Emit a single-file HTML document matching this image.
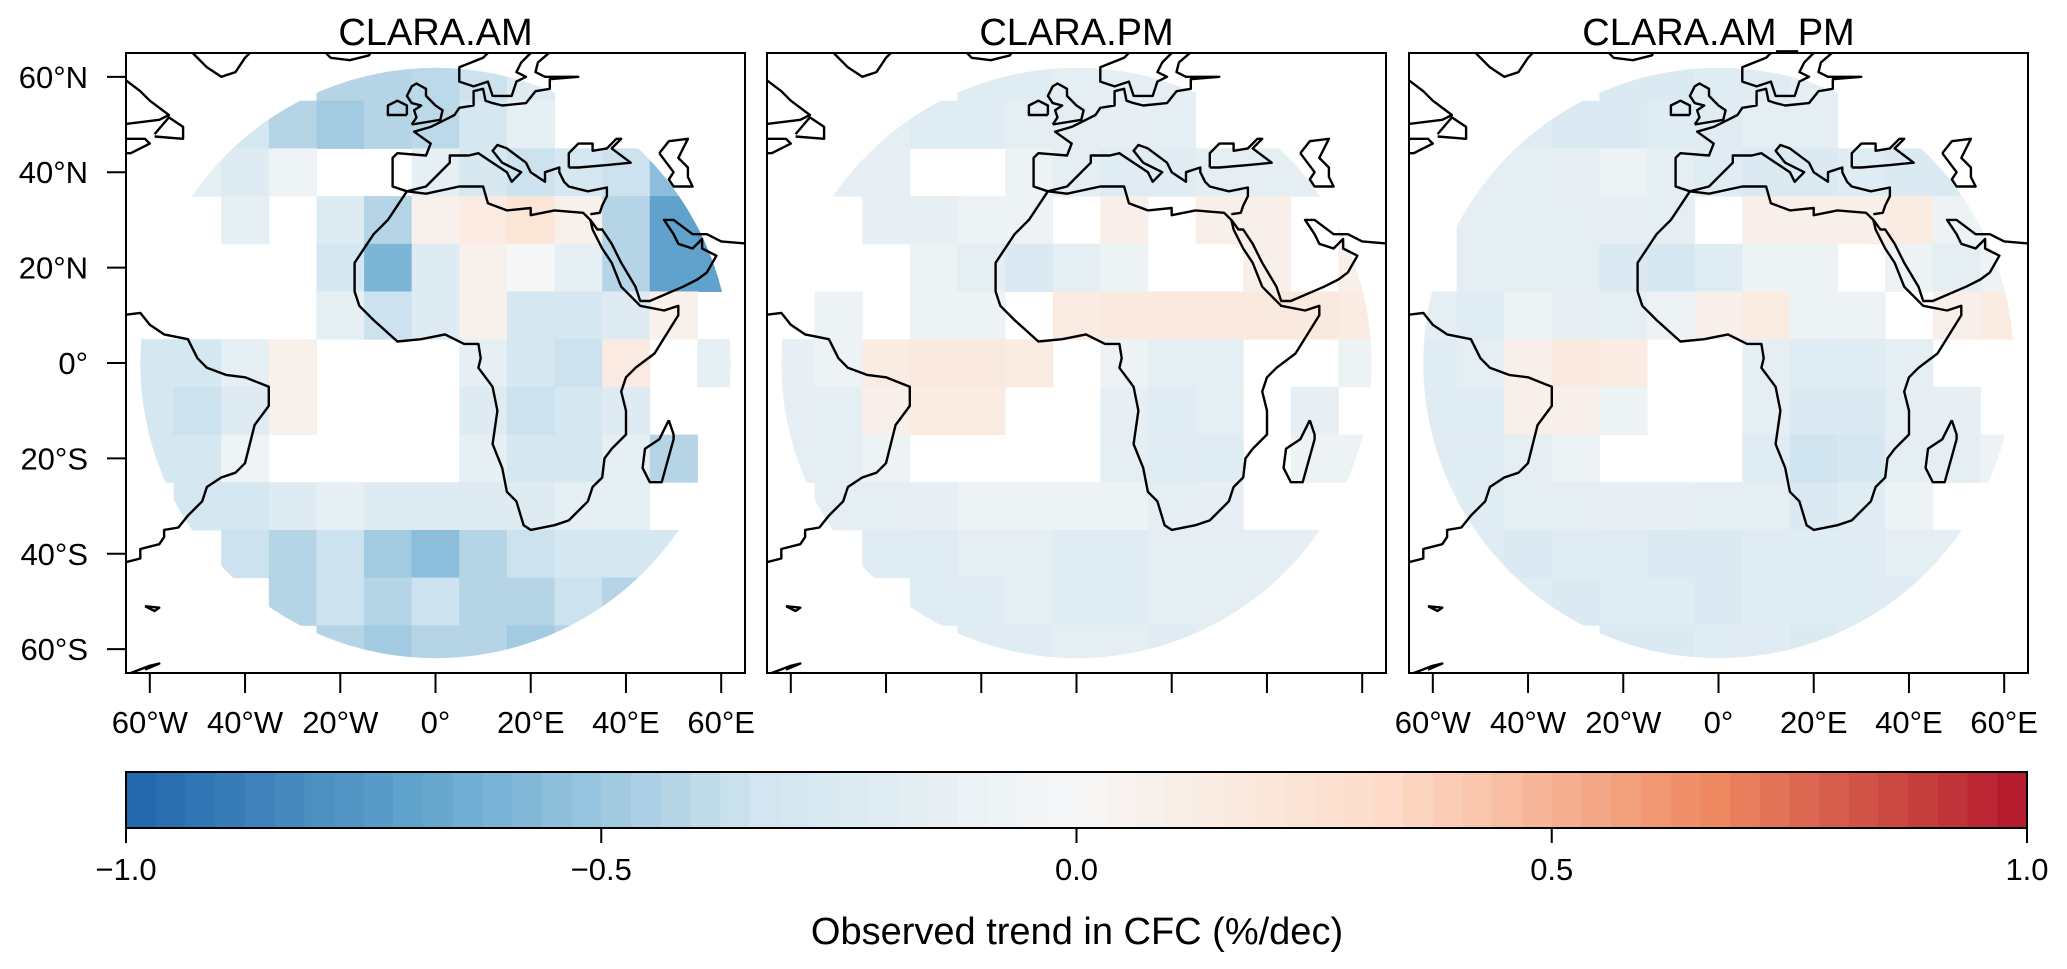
<!DOCTYPE html>
<html><head><meta charset="utf-8"><style>
html,body{margin:0;padding:0;background:#fff;}
svg{display:block;font-family:"Liberation Sans",sans-serif;}
</style></head><body>
<svg id="fig" width="2067" height="969" viewBox="0 0 2067 969" xmlns="http://www.w3.org/2000/svg">
<defs id="defs"></defs>
<g id="root"></g>
</svg>
<script>
// ---- data ----
const lonCenters = [-60,-50,-40,-30,-20,-10,0,10,20,30,40,50,60];
const latCenters = [60,50,40,30,20,10,0,-10,-20,-30,-40,-50,-60];
const n = null;
const amValues = [
[n,n,n,n,-.42,-.42,-.4,-.35,-.22,n,n,n,n],
[n,n,-.3,-.42,-.48,-.42,-.4,-.3,-.15,n,n,-.22,n],
[n,-.15,-.22,-.08,n,n,-.15,-.28,-.35,-.3,-.35,-.55,-.6],
[n,n,-.15,n,-.22,-.42,.08,.15,.22,.08,-.42,-.7,-.75],
[n,n,n,n,-.3,-.6,-.22,.08,0,-.15,-.42,-.7,-.7],
[n,n,n,n,-.15,-.35,-.22,.08,-.3,-.3,-.22,.08,n],
[-.3,-.3,-.15,.08,n,n,n,-.15,-.3,-.35,.15,n,-.15],
[-.3,-.35,-.22,.08,n,n,n,-.22,-.35,-.3,-.22,n,n],
[-.3,-.3,-.08,n,n,n,n,-.15,-.3,-.3,-.15,-.42,n],
[n,-.3,-.3,-.22,-.15,-.22,-.22,-.22,-.22,-.15,-.15,n,n],
[n,n,-.35,-.42,-.35,-.48,-.55,-.42,-.35,-.3,-.3,-.3,-.22],
[n,n,n,-.42,-.35,-.42,-.35,-.42,-.42,-.35,-.42,-.42,n],
[n,n,n,n,-.42,-.48,-.42,-.42,-.48,-.42,n,n,n]];
const pmValues = [
[n,n,n,n,-.2,-.2,-.17,-.17,-.17,n,n,n,n],
[n,n,-.17,-.2,-.2,-.17,-.17,-.14,-.17,n,n,-.17,n],
[n,-.14,-.14,n,n,-.09,-.17,-.2,-.2,-.17,-.17,-.17,-.17],
[n,n,-.14,-.14,-.09,-.09,n,.09,n,.09,.09,n,-.09],
[n,n,n,-.09,-.17,-.25,-.17,-.09,n,n,.09,n,.09],
[n,-.09,n,-.09,-.09,n,.14,.17,.17,.17,.17,.17,.14],
[-.14,-.09,.14,.17,.17,.14,n,-.09,-.17,-.17,n,n,-.09],
[-.14,-.17,.09,.14,.14,n,n,-.14,-.2,-.17,n,-.14,n],
[-.17,-.17,-.09,n,n,n,n,-.17,-.2,-.2,n,-.09,-.09],
[n,-.17,-.17,-.14,-.09,-.09,-.09,-.09,-.17,-.14,n,n,n],
[n,n,-.2,-.2,-.17,-.17,-.2,-.2,-.17,-.17,-.17,-.14,n],
[n,n,n,-.2,-.2,-.17,-.2,-.2,-.17,-.17,-.17,-.17,n],
[n,n,n,n,-.2,-.2,-.17,-.17,-.2,-.17,n,n,n]];
const ampmValues = [
[n,n,n,n,-.25,-.25,-.2,-.2,-.17,n,n,n,n],
[n,n,-.2,-.25,-.25,-.2,-.2,-.17,-.17,n,n,-.17,n],
[n,-.17,-.17,-.14,-.09,-.17,-.2,-.25,-.25,-.2,-.25,-.25,-.25],
[n,-.17,-.17,-.17,-.14,-.17,n,.09,.09,.09,.14,-.09,-.17],
[n,-.17,-.17,-.17,-.25,-.3,-.2,-.09,-.09,n,-.09,-.17,-.09],
[-.17,-.2,-.09,-.14,-.17,-.09,.09,.14,-.09,-.09,n,.09,.14],
[-.2,-.17,.09,.17,.14,n,n,-.17,-.2,-.2,-.17,n,n],
[-.2,-.2,.09,.09,-.09,n,n,-.17,-.25,-.25,-.17,-.14,n],
[-.2,-.2,-.17,-.09,n,n,n,-.2,-.33,-.3,-.17,-.17,-.09],
[-.17,-.2,-.17,-.17,-.14,-.14,-.17,-.17,-.25,-.2,-.09,n,n],
[n,-.2,-.25,-.2,-.2,-.25,-.25,-.2,-.2,-.2,-.17,-.17,-.17],
[n,n,-.2,-.25,-.2,-.2,-.25,-.2,-.2,-.2,-.2,-.17,n],
[n,n,n,n,-.25,-.25,-.2,-.2,-.25,-.2,n,n,n]];
const panelTitles = ["CLARA.AM","CLARA.PM","CLARA.AM_PM"];
const latTicks = [60,40,20,0,-20,-40,-60];
const latTickLabels = ["60°N","40°N","20°N","0°","20°S","40°S","60°S"];
const lonTicks = [-60,-40,-20,0,20,40,60];
const lonTickLabels = ["60°W","40°W","20°W","0°","20°E","40°E","60°E"];
const cbTicks = [-1,-0.5,0,0.5,1];
const cbTickLabels = ["−1.0","−0.5","0.0","0.5","1.0"];

const coasts = [
 [[-6,36],[-10,30],[-13,27],[-17,21],[-17,15],[-16,12],[-13,9],[-8,4.5],[-3,5],[2,6],[6,4],[9,4],[9.5,1],[9,-1],[12,-5],[13,-10],[12,-17],[14,-22],[15,-27],[17,-29],[18.5,-34],[20,-35],[25,-34],[28,-33],[32,-29],[33,-26],[35,-24],[35.5,-20],[37,-18],[40,-15],[40,-10],[39,-6],[40,-3],[42,-1],[46,2],[51,10],[51,12],[48,11],[43,12],[39,16],[37,21],[35,24],[33,28],[32.5,30],[31,31.5],[25,32],[20,31],[20,32.5],[15,32],[11,33.5],[10,37],[5,37],[-2,35.5],[-6,36]],
 [[32.5,30],[34,28],[35,28],[37,25],[39,21],[42,16],[43,13],[45,13],[52,16],[55,17.5],[57,19],[59,22.5],[56,24],[56,26],[54,24],[51,25],[50,27],[48,30],[50,30],[54,27],[57,27],[60,25.5],[66,25]],
 [[32.5,31.2],[34.5,31.5],[35,33],[36,35],[36,36.8],[32,36],[30,36.5],[28,37],[27,38],[26,40],[26,41],[23,40],[23,38],[20,40],[19,42],[15,45],[13,45.7],[12,44.5],[14,42],[18,40],[16,38],[15,40],[12,42],[9,44],[7,43.5],[3,43.5],[3,42],[0,39],[-2,37],[-6,36],[-9,37],[-9,43],[-8,44],[-2,43.5],[-1,46],[-4.5,48.5],[-1,49.5],[2,51],[4,52],[5,53.5],[8,54],[8,57],[10,57.5],[10.5,55],[12,54.5],[14,54],[19,54.5],[21,57],[24,57.5],[24,59.5],[30,60],[23,60],[21,61],[21.5,63],[25,66]],
 [[12,66],[10,64],[5,62],[5,59],[8,58],[11,59],[12,56],[16,56],[17,59],[19,60],[17,61],[18,63],[21,66]],
 [[-5,50],[1,51],[1.5,53],[0,54],[-2,56],[-2,57.5],[-4,58.6],[-5,58],[-6,56],[-5,54.5],[-3,54],[-4.5,53],[-4,51.5],[-5,50]],
 [[-6,52],[-6,54],[-8,55],[-10,54],[-10,52],[-6,52]],
 [[28,41],[28,44],[30,46],[33,46],[33,44.5],[36,45],[38,47],[39,47],[37,45],[41,42],[36,41.5],[30,41],[28,41]],
 [[47,44],[49,46.5],[53,47],[52,45],[51,43],[53,41],[53,39],[54,37],[50,37],[49,38.5],[50,40],[47,44]],
 [[49,-12],[50,-15],[50,-16],[47.5,-25],[45,-25],[43.5,-22],[44,-18],[47,-16],[49,-12]],
 [[-66,10],[-62,10.5],[-60,8],[-57,6],[-52,5],[-50,1],[-48,-1],[-44,-2.5],[-40,-3],[-35,-5],[-35,-9],[-38,-13],[-39,-17],[-40,-21],[-42,-23],[-45,-24],[-48,-26],[-49,-29],[-52,-32],[-54,-34.5],[-57,-35],[-57,-36.5],[-58,-38],[-62,-39],[-62,-41],[-66,-42]],
 [[-61,-51],[-58,-51.3],[-59,-52],[-61,-51]],
 [[-59,47.5],[-53,47],[-53,49.5],[-56,51.5],[-59,48]],
 [[-66,60],[-62,57],[-60,55],[-56,52],[-58,51],[-66,50]],
 [[-66,47],[-61,47],[-60,46],[-64,44],[-66,44]],
 [[-52,66],[-48,62],[-45,60],[-42,61],[-40,64],[-38,66]],
 [[-24,66],[-22,64],[-18,63.5],[-14,64.5],[-13,66]],
 [[-64,-65],[-60,-63.5],[-58,-63],[-61,-64.3]]
];

// ---- layout ----
const NS = "http://www.w3.org/2000/svg";
const root = document.getElementById('root');
const defs = document.getElementById('defs');
const panelLefts = [126,767,1409];
const PW = 619, PT = 53, PH = 620, SPAN = 130;
function mk(tag, attrs, parent){const e=document.createElementNS(NS,tag);for(const k in attrs)e.setAttribute(k,attrs[k]);(parent||root).appendChild(e);return e;}

const stops=[[-1,[33,102,172]],[-0.667,[103,169,207]],[-0.333,[209,229,240]],[0,[247,247,247]],[0.333,[253,219,199]],[0.667,[239,138,98]],[1,[178,24,43]]];
function cmap(v){v=Math.max(-1,Math.min(1,v));for(let i=0;i<stops.length-1;i++){const a=stops[i],b=stops[i+1];if(v<=b[0]){const t=(v-a[0])/(b[0]-a[0]);const c=a[1].map((x,j)=>Math.round(x+(b[1][j]-x)*t));return `rgb(${c[0]},${c[1]},${c[2]})`;}}return 'rgb(178,24,43)';}

const allValues=[amValues,pmValues,ampmValues];
allValues.forEach((vals,p)=>{
  const L=panelLefts[p];
  const xs=lon=>L+(lon+65)*PW/SPAN;
  const ys=lat=>PT+(65-lat)*PH/SPAN;
  const g=mk('g',{});
  
  
  const cp=mk('clipPath',{id:'disk'+p},defs);
  mk('circle',{cx:xs(0),cy:ys(0),r:62*PW/SPAN},cp);
  const cr=mk('clipPath',{id:'rect'+p},defs);
  mk('rect',{x:L,y:PT,width:PW,height:PH},cr);
  const cells=mk('g',{'clip-path':'url(#disk'+p+')'},g);
  
  
  vals.forEach((row,i)=>row.forEach((v,j)=>{
    if(v===null)return;
    const r=mk('rect',{x:xs(lonCenters[j]-5),y:ys(latCenters[i]+5),width:xs(lonCenters[j]+5)-xs(lonCenters[j]-5)+0.5,height:ys(latCenters[i]-5)-ys(latCenters[i]+5)+0.5,fill:cmap(v)},cells);
    
    
  }));
  const cg=mk('g',{'clip-path':'url(#rect'+p+')',fill:'none',stroke:'#000','stroke-width':2.4,'stroke-linejoin':'round'},g);
  
  
  coasts.forEach(c=>{mk('polyline',{points:c.map(q=>xs(q[0]).toFixed(1)+','+ys(q[1]).toFixed(1)).join(' ')},cg);});
  const fr=mk('rect',{x:L,y:PT,width:PW,height:PH,fill:'none',stroke:'#000','stroke-width':2},g);
  
  
  const t=mk('text',{x:L+PW/2,y:45,'text-anchor':'middle','font-size':38},g);
  t.textContent=panelTitles[p];
  
  
  lonTicks.forEach((lon,k)=>{
    const tk=mk('line',{x1:xs(lon),x2:xs(lon),y1:PT+PH,y2:693,stroke:'#000','stroke-width':2},g);
    
    
    if(p!==1){
      const tl=mk('text',{x:xs(lon),y:733,'text-anchor':'middle','font-size':31},g);
      tl.textContent=lonTickLabels[k];
      
      
    }
  });
  if(p===0){
    latTicks.forEach((lat,k)=>{
      const tk=mk('line',{x1:107,x2:L,y1:ys(lat),y2:ys(lat),stroke:'#000','stroke-width':2},g);
      
      
      const tl=mk('text',{x:88,y:ys(lat)+11,'text-anchor':'end','font-size':31},g);
      tl.textContent=latTickLabels[k];
      
      
    });
  }
});

// ---- colorbar ----
const CBL=126, CBR=2027, CBT=772, CBB=828;
const cbx=v=>CBL+(v+1)/2*(CBR-CBL);
const cb=mk('g',{});


const NSEG=64;
for(let i=0;i<NSEG;i++){
  const v0=-1+2*i/NSEG, v1=-1+2*(i+1)/NSEG;
  const r=mk('rect',{x:cbx(v0),y:CBT,width:cbx(v1)-cbx(v0)+0.6,height:CBB-CBT,fill:cmap((v0+v1)/2)},cb);
  
  
}
const cbf=mk('rect',{x:CBL,y:CBT,width:CBR-CBL,height:CBB-CBT,fill:'none',stroke:'#000','stroke-width':2},cb);


cbTicks.forEach((v,k)=>{
  const tk=mk('line',{x1:cbx(v),x2:cbx(v),y1:CBB,y2:843,stroke:'#000','stroke-width':2},cb);
  
  
  const tl=mk('text',{x:cbx(v),y:880,'text-anchor':'middle','font-size':31},cb);
  tl.textContent=cbTickLabels[k];
  
  
});
const ct=mk('text',{x:1077,y:944,'text-anchor':'middle','font-size':38},cb);
ct.textContent="Observed trend in CFC (%/dec)";


</script>
</body></html>
